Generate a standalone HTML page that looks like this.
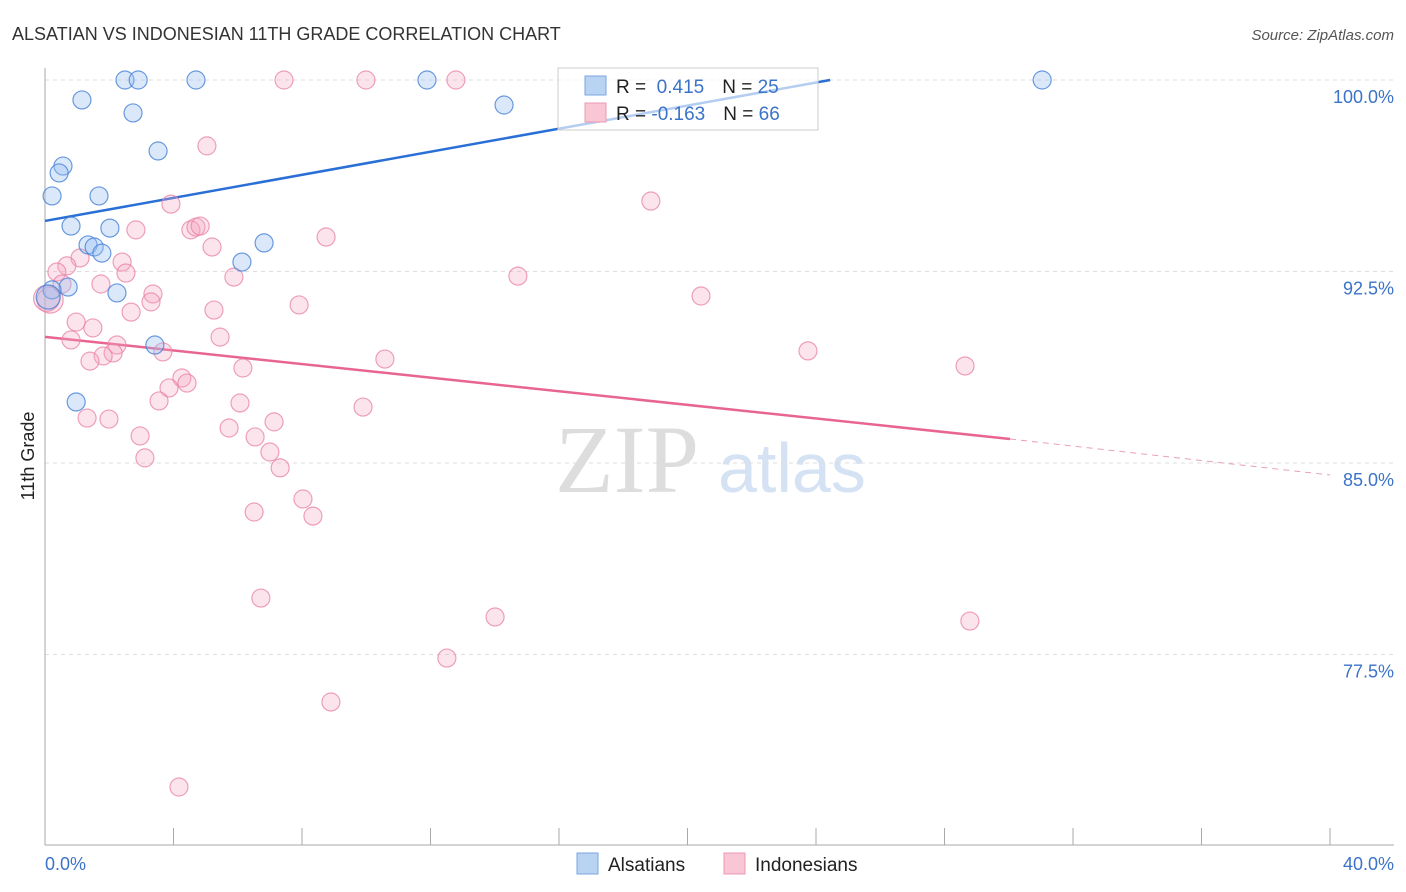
<!DOCTYPE html>
<html><head><meta charset="utf-8"><style>
body{margin:0;background:#fff;font-family:"Liberation Sans",sans-serif;}
#wrap{position:relative;width:1406px;height:892px;overflow:hidden}
</style></head><body>
<div id="wrap">
<svg id="svg" width="1406" height="892" xmlns="http://www.w3.org/2000/svg" font-family="Liberation Sans, sans-serif">
<text x="12" y="40" font-size="18" fill="#333">ALSATIAN VS INDONESIAN 11TH GRADE CORRELATION CHART</text>
<text x="1394" y="40" font-size="15" fill="#555" font-style="italic" text-anchor="end">Source: ZipAtlas.com</text>
<text x="555" y="492" font-size="96" fill="#ddd" font-family="Liberation Serif, serif">ZIP</text>
<text x="718" y="492" font-size="70" fill="#d4e2f4">atlas</text>
<g id="grid"></g><g id="axes"></g><g id="lines"></g><g id="pts"></g>
<text transform="translate(34,456) rotate(-90)" font-size="18" fill="#222" text-anchor="middle">11th Grade</text>
<text x="45" y="870" font-size="18" fill="#3b73c9">0.0%</text>
<text x="1394" y="870" font-size="18" fill="#3b73c9" text-anchor="end">40.0%</text>
<g>
<rect x="558" y="68" width="260" height="62" fill="rgba(255,255,255,0.65)" stroke="#ccc"/>
<rect x="585" y="76" width="21" height="19" fill="#b9d3f3" stroke="#7aa6e0"/>
<rect x="585" y="103" width="21" height="19" fill="#f8c6d5" stroke="#eb98b2"/>
<text x="616" y="93" font-size="19" fill="#222">R = <tspan fill="#3b73c9">&#160;0.415</tspan><tspan dx="18">N = </tspan><tspan fill="#3b73c9">25</tspan></text>
<text x="616" y="120" font-size="19" fill="#222">R = <tspan fill="#3b73c9">-0.163</tspan><tspan dx="18">N = </tspan><tspan fill="#3b73c9">66</tspan></text>
</g>
<g>
<rect x="577" y="853" width="21" height="21" fill="#b9d3f3" stroke="#7aa6e0"/>
<text x="608" y="871" font-size="19" fill="#222">Alsatians</text>
<rect x="724" y="853" width="21" height="21" fill="#f8c6d5" stroke="#eb98b2"/>
<text x="755" y="871" font-size="19" fill="#222">Indonesians</text>
</g>
</svg></div>
<script>
const yTicks=[100,92.5,85,77.5];
const yTickLabels=["100.0%","92.5%","85.0%","77.5%"];
const blueX=[2.49,2.90,4.70,11.89,31.04,1.15,2.74,14.29,3.52,0.56,0.44,0.22,1.68,0.81,2.02,1.34,1.53,1.77,6.82,6.13,2.24,0.72,0.22,3.42,0.97,0.1];
const blueY=[100,100,100,100,100,99.22,98.71,99.02,97.22,96.63,96.36,95.46,95.46,94.28,94.20,93.54,93.46,93.22,93.62,92.87,91.66,91.89,91.78,89.62,87.39,91.5];
const pinkX=[7.44,9.99,12.79,5.04,18.86,3.92,2.83,4.54,4.70,4.83,8.75,5.20,1.09,0.68,0.37,2.40,2.52,5.88,14.72,0.53,1.74,3.36,3.30,7.91,20.42,5.26,2.68,0.97,1.49,0.81,5.45,2.24,2.12,1.81,1.40,3.67,23.75,10.58,6.16,28.64,4.26,3.86,4.42,3.55,6.07,9.90,1.31,1.99,7.13,5.73,2.96,6.54,7.00,3.11,7.32,8.03,6.51,8.34,6.72,14.01,28.79,12.51,8.90,4.17,0.16,0.05];
const pinkY=[100,100,100,97.42,95.26,95.14,94.13,94.13,94.24,94.28,93.85,93.46,93.03,92.72,92.48,92.87,92.44,92.28,92.32,92.01,92.01,91.62,91.31,91.19,91.54,90.99,90.91,90.52,90.29,89.82,89.93,89.62,89.31,89.19,88.99,89.35,89.39,89.07,88.72,88.80,88.33,87.94,88.13,87.43,87.35,87.19,86.76,86.72,86.61,86.37,86.06,86.02,85.43,85.20,84.81,83.59,83.08,82.92,79.71,78.97,78.81,77.36,75.64,72.31,91.38,91.45];
const blueTrend=[[0,94.48],[24.44,100]];
const pinkTrend=[[0,89.94],[30.04,85.94]];
const pinkDash=[[30.04,85.94],[40,84.53]];
const NS="http://www.w3.org/2000/svg";
const X=v=>45+v/40*1285, Y=v=>80+(100-v)/7.5*191.5;
function mk(t,a,p){const e=document.createElementNS(NS,t);for(const k in a)e.setAttribute(k,a[k]);document.getElementById(p).appendChild(e);return e;}
yTicks.forEach((t,i)=>{
 const g=mk('line',{x1:45,x2:1394,y1:Y(t),y2:Y(t),stroke:'#ddd','stroke-dasharray':'4,4'},'grid');
 
 
 const l=mk('text',{x:1394,y:Y(t)+23,'font-size':18,fill:'#3b73c9','text-anchor':'end'},'grid');
 l.textContent=yTickLabels[i];
 
 
});
let a=mk('line',{x1:45,x2:45,y1:68,y2:845,stroke:'#aaa'},'axes');


a=mk('line',{x1:45,x2:1394,y1:845,y2:845,stroke:'#aaa'},'axes');


for(let i=1;i<=10;i++){const t=mk('line',{x1:X(i*4),x2:X(i*4),y1:828,y2:845,stroke:'#aaa'},'axes');
 
 }
function ln(p,c,d,n){const e=mk('line',{x1:X(p[0][0]),y1:Y(p[0][1]),x2:X(p[1][0]),y2:Y(p[1][1]),stroke:c,'stroke-width':d?1:2.5,'stroke-dasharray':d?'6,5':'none'},'lines');
 
 }
ln(blueTrend,'#2a6fd6',0,'alsatian-trend');
ln(pinkTrend,'#e8658f',0,'indonesian-trend');
ln(pinkDash,'#e8a0b8',1,'indonesian-trend-extension');
pinkX.forEach((x,i)=>{const c=mk('circle',{cx:X(x),cy:Y(pinkY[i]),r:i>=64?13:9,fill:'rgba(244,167,193,0.3)',stroke:'rgba(232,130,165,0.75)','stroke-width':1.2},'pts');
 
 });
blueX.forEach((x,i)=>{const c=mk('circle',{cx:X(x),cy:Y(blueY[i]),r:i>=25?12:9,fill:'rgba(150,190,240,0.35)',stroke:'rgba(70,130,215,0.8)','stroke-width':1.2},'pts');
 
 });
</script></body></html>
